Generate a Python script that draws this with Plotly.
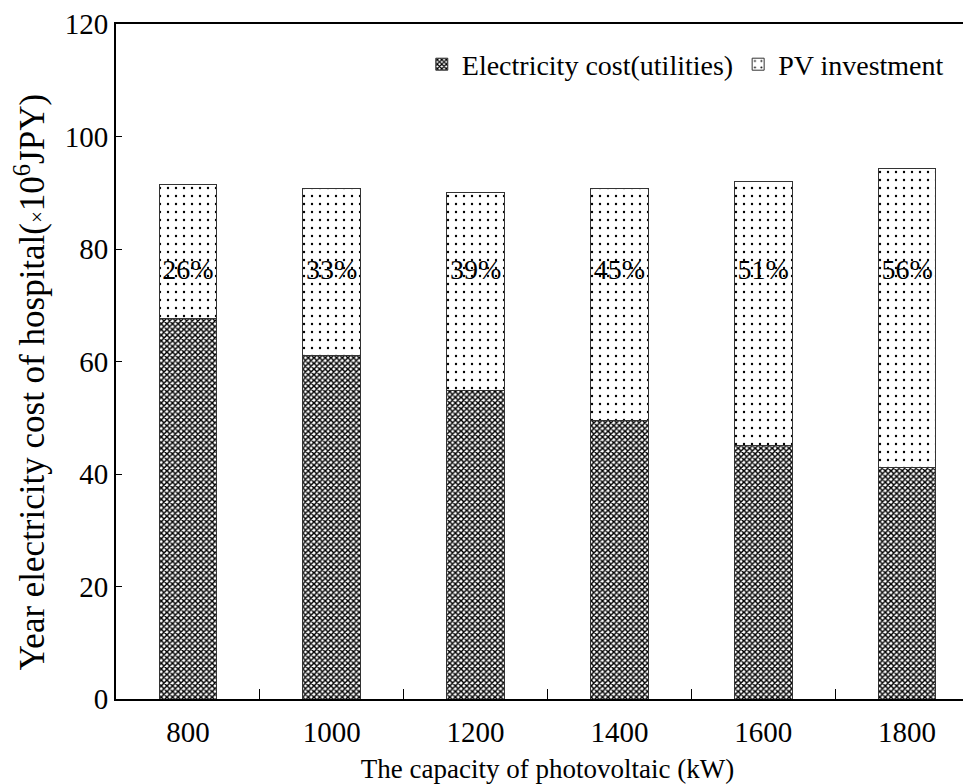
import plotly.graph_objects as go

categories = ["800", "1000", "1200", "1400", "1600", "1800"]
electricity_cost = [67.6, 61.1, 54.9, 49.6, 45.0, 41.1]
pv_investment = [23.9, 29.7, 35.2, 41.2, 47.0, 53.2]
pct_labels = ["26%", "33%", "39%", "45%", "51%", "56%"]
label_level = 76
y_ticks = [0, 20, 40, 60, 80, 100, 120]
y_title = "Year electricity cost of hospital(<span style='font-size:21px'>×</span>10<sup>6</sup>JPY)"
x_title = "The capacity of photovoltaic (kW)"

FONT = "Liberation Serif, Times New Roman, serif"

fig = go.Figure()
fig.add_trace(go.Bar(
    x=categories, y=electricity_cost, name="Electricity cost(utilities)",
    marker=dict(color="white", line=dict(color="#333333", width=1),
                pattern=dict(shape="x", size=4, solidity=0.6,
                             fgcolor="black", bgcolor="white", fillmode="replace")),
))
fig.add_trace(go.Bar(
    x=categories, y=pv_investment, name="PV investment",
    marker=dict(color="white", line=dict(color="#333333", width=1),
                pattern=dict(shape=".", size=8, solidity=0.07,
                             fgcolor="black", bgcolor="white", fillmode="replace")),
))
fig.add_trace(go.Scatter(
    x=categories, y=[label_level] * len(categories), mode="text",
    text=pct_labels, textposition="middle center",
    textfont=dict(family=FONT, size=28, color="black"),
    showlegend=False, hoverinfo="skip",
))

fig.add_annotation(
    text=y_title, textangle=-90, xref="paper", yref="paper",
    x=0, y=0.469, xanchor="center", yanchor="middle", xshift=-86,
    showarrow=False, font=dict(family=FONT, size=35, color="black"),
)

fig.update_layout(
    width=971, height=784,
    margin=dict(l=108, r=0, t=13, b=93),
    barmode="stack", bargap=0.6,
    plot_bgcolor="white", paper_bgcolor="white",
    font=dict(family=FONT, size=27, color="black"),
    legend=dict(orientation="h", x=0.965, xanchor="right", y=0.94, yanchor="middle",
                font=dict(family=FONT, size=28), traceorder="normal",
                itemwidth=30, bgcolor="rgba(0,0,0,0)"),
    xaxis=dict(
        type="category", range=[-0.5, 5.5],
        showline=True, linecolor="black", linewidth=2, mirror=True,
        ticks="inside", ticklen=10, tickcolor="black", tickson="boundaries",
        tickfont=dict(family=FONT, size=29), ticklabelstandoff=6,
        title=dict(text=x_title, font=dict(family=FONT, size=27), standoff=12),
        showgrid=False,
    ),
    yaxis=dict(
        range=[0, 120], tickvals=y_ticks,
        showline=True, linecolor="black", linewidth=2,
        ticks="inside", ticklen=6, tickcolor="black",
        tickfont=dict(family=FONT, size=29), ticklabeloverflow="allow",
        showgrid=False, zeroline=False,
    ),
)

fig.write_html("out.html")
